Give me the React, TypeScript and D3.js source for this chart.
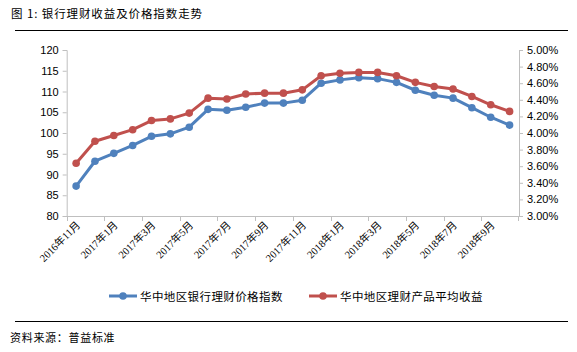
import React, { useRef, useEffect } from "react";
import * as d3 from "d3";

// months from 2016-11 to 2018-10
const months = [
  "2016年11月", "2016年12月", "2017年1月", "2017年2月", "2017年3月", "2017年4月",
  "2017年5月", "2017年6月", "2017年7月", "2017年8月", "2017年9月", "2017年10月",
  "2017年11月", "2017年12月", "2018年1月", "2018年2月", "2018年3月", "2018年4月",
  "2018年5月", "2018年6月", "2018年7月", "2018年8月", "2018年9月", "2018年10月",
];

// 华中地区银行理财价格指数 (left axis)
const priceIndex = [
  87.2, 93.2, 95.1, 97.0, 99.2, 99.8, 101.4, 105.7, 105.5, 106.2, 107.2, 107.2,
  107.9, 112.0, 112.8, 113.3, 113.1, 112.2, 110.3, 109.1, 108.4, 106.1, 103.8, 101.9,
];

// 华中地区理财产品平均收益, % (right axis)
const avgYield = [
  3.635, 3.90, 3.97, 4.04, 4.15, 4.17, 4.24, 4.42, 4.41, 4.47, 4.48, 4.48,
  4.52, 4.69, 4.72, 4.73, 4.73, 4.69, 4.61, 4.56, 4.53, 4.44, 4.34, 4.26,
];

const leftTicks = [80, 85, 90, 95, 100, 105, 110, 115, 120];
const rightTicks = [3.0, 3.2, 3.4, 3.6, 3.8, 4.0, 4.2, 4.4, 4.6, 4.8, 5.0];

const seriesNames = ["华中地区银行理财价格指数", "华中地区理财产品平均收益"];
const colors = ["#4f81bd", "#c0504d"];

export default function App() {
  const ref = useRef<SVGSVGElement | null>(null);
  const width = 577, height = 352;
  const plot = { left: 66.7, right: 519, top: 50, bottom: 216 };
  const cjk = "'Noto Sans CJK SC', sans-serif";

  useEffect(() => {
    const svg = d3.select(ref.current);
    svg.selectAll("*").remove();

    const x = d3.scaleBand().domain(months).range([plot.left, plot.right]);
    const yL = d3.scaleLinear().domain([80, 120]).range([plot.bottom, plot.top]);
    const yR = d3.scaleLinear().domain([3, 5]).range([plot.bottom, plot.top]);
    const cx = (m: string) => (x(m) as number) + x.bandwidth() / 2;

    // title + rules
    svg.append("text").attr("x", 11).attr("y", 18)
      .attr("font-family", cjk).attr("font-size", 11.5).attr("fill", "#000")
      .attr("letter-spacing", 0.9)
      .text("图 1:  银行理财收益及价格指数走势");
    svg.append("line").attr("x1", 15).attr("x2", 568).attr("y1", 30.5).attr("y2", 30.5)
      .attr("stroke", "#000").attr("stroke-width", 1.2);
    svg.append("line").attr("x1", 15).attr("x2", 568).attr("y1", 321.5).attr("y2", 321.5)
      .attr("stroke", "#000").attr("stroke-width", 1.2);
    svg.append("text").attr("x", 10).attr("y", 342)
      .attr("font-family", cjk).attr("font-size", 11).attr("fill", "#000")
      .attr("letter-spacing", 0.7)
      .text("资料来源：普益标准");

    const axisColor = "#bfbfbf";

    // left axis
    const gl = svg.append("g").attr("transform", `translate(${plot.left},0)`)
      .call(d3.axisLeft(yL).tickValues(leftTicks).tickSize(4).tickPadding(4));
    gl.selectAll("path, line").attr("stroke", axisColor);
    gl.selectAll("text").attr("font-family", "'Liberation Sans', Arial, sans-serif")
      .attr("font-size", 11).attr("fill", "#000");

    // right axis
    const gr = svg.append("g").attr("transform", `translate(${plot.right},0)`)
      .call(d3.axisRight(yR).tickValues(rightTicks).tickSize(4).tickPadding(4)
        .tickFormat(d => (d as number).toFixed(2) + "%"));
    gr.selectAll("path, line").attr("stroke", axisColor);
    gr.selectAll("text").attr("font-family", "'Liberation Sans', Arial, sans-serif")
      .attr("font-size", 11).attr("fill", "#000");

    // bottom axis: ticks at boundaries every 2 categories
    const gb = svg.append("g");
    gb.append("line").attr("x1", plot.left).attr("x2", plot.right)
      .attr("y1", plot.bottom + 0.5).attr("y2", plot.bottom + 0.5).attr("stroke", axisColor);
    months.forEach((m, i) => {
      if (i % 2 === 0) {
        const xb = Math.round(x(m) as number) + 0.5;
        gb.append("line").attr("x1", xb).attr("x2", xb)
          .attr("y1", plot.bottom).attr("y2", plot.bottom + 5).attr("stroke", axisColor);
        gb.append("text")
          .attr("transform", `translate(${cx(m) + 3},${plot.bottom + 8}) rotate(-45)`)
          .attr("text-anchor", "end")
          .attr("dominant-baseline", "middle")
          .attr("font-family", "'Liberation Serif', 'Noto Sans CJK SC', serif")
          .attr("font-size", 10.5).attr("fill", "#000")
          .text(m);
      }
    });
    gb.append("line").attr("x1", plot.right - 0.5).attr("x2", plot.right - 0.5)
      .attr("y1", plot.bottom).attr("y2", plot.bottom + 5).attr("stroke", axisColor);

    // series
    const series = [
      { values: priceIndex, y: yL, color: colors[0] },
      { values: avgYield, y: yR, color: colors[1] },
    ];
    series.forEach(s => {
      const line = d3.line<number>()
        .x((_, i) => cx(months[i]))
        .y(d => s.y(d));
      svg.append("path").datum(s.values)
        .attr("fill", "none").attr("stroke", s.color)
        .attr("stroke-width", 3).attr("stroke-linejoin", "round")
        .attr("d", line);
      svg.append("g").selectAll("circle").data(s.values).join("circle")
        .attr("cx", (_, i) => cx(months[i]))
        .attr("cy", d => s.y(d))
        .attr("r", 3.8)
        .attr("fill", s.color);
    });

    // legend
    const legendX = [109, 309];
    seriesNames.forEach((name, i) => {
      const lx = legendX[i], ly = 296;
      svg.append("line").attr("x1", lx).attr("x2", lx + 28).attr("y1", ly).attr("y2", ly)
        .attr("stroke", colors[i]).attr("stroke-width", 3);
      svg.append("circle").attr("cx", lx + 14).attr("cy", ly).attr("r", 3.8).attr("fill", colors[i]);
      svg.append("text").attr("x", lx + 31).attr("y", ly)
        .attr("dominant-baseline", "central")
        .attr("font-family", cjk).attr("font-size", 11.5).attr("fill", "#000")
        .attr("letter-spacing", 0.4)
        .text(name);
    });
  }, []);

  return (
    <svg ref={ref} width={width} height={height}
      style={{ position: "absolute", left: 0, top: 0, background: "#fff" }} />
  );
}
